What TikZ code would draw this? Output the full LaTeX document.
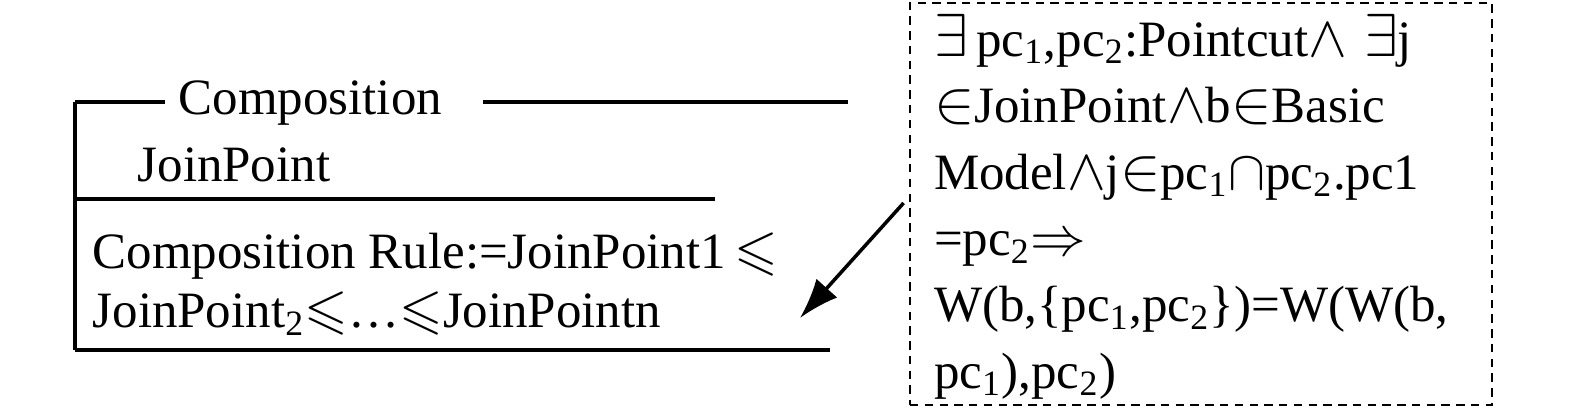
\documentclass[tikz,border=0pt]{standalone}
\usepackage{amsmath}
\usepackage{amssymb}
\usepackage{graphicx}
\usepackage{fontspec}
\setmainfont{Liberation Serif}
\usetikzlibrary{arrows.meta,positioning,calc}
\newcommand{\bsym}[2][1.2]{\smash{\scalebox{#1}{$#2$}}}
\tikzset{
  stxt/.style={inner sep=0pt, font=\fontsize{14.5}{17}\selectfont, align=left},
  sline/.style={line width=0.9pt, black},
  cbox/.style={rectangle, draw, dashed, dash pattern=on 2.4pt off 1.8pt, line width=0.8pt,
               align=left, font=\fontsize{14.5}{18.9}\selectfont, text width=5.34cm,
               minimum width=5.82cm, minimum height=4.02cm, inner xsep=0.24cm, inner ysep=0pt},
  sarr/.style={-{Latex[length=4mm,width=2.8mm]}, line width=1pt, black},
}
\begin{document}
\begin{tikzpicture}
            \useasboundingbox (0,0) rectangle (15.75,4.13);
            \coordinate (tl) at (0.75,3.11);
            \coordinate (ml) at (0.75,2.14);
            \coordinate (bl) at (0.75,0.63);
            \node[stxt,anchor=base west](title) at (1.78,2.98){Composition};
            \node[stxt,anchor=base west](jp) at (1.37,2.31){JoinPoint};
            \node[stxt,anchor=base west](rule) at (0.92,0.85){Composition Rule:=JoinPoint1\,\bsym[1.1]{\leqslant}\\JoinPoint\textsubscript{2}\bsym[1.1]{\leqslant}\ldots\bsym[1.1]{\leqslant}JoinPointn};
            \node[cbox](cond) at (12.01,2.09){\rule{0pt}{13.5pt}\bsym{\exists}\,pc\textsubscript{1},pc\textsubscript{2}:Pointcut\bsym[1.15]{\wedge}\ \bsym{\exists}j\\\bsym{\in}JoinPoint\bsym[1.15]{\wedge}b\bsym{\in}Basic\\Model\bsym[1.15]{\wedge}j\bsym{\in}pc\textsubscript{1}\bsym[1.1]{\cap}pc\textsubscript{2}.pc1\\=pc\textsubscript{2}\bsym[1.1]{\Rightarrow}\\W(b,\{pc\textsubscript{1},pc\textsubscript{2}\})=W(W(b,\\pc\textsubscript{1}),pc\textsubscript{2})};
            \coordinate (tip) at (8.00,0.95);
            \draw[sline](tl)--(bl);
            \draw[sline](tl)--(tl-|1.65,0);
            \draw[sline](4.83,3.11)--(8.48,3.11);
            \draw[sline](ml)--(ml-|7.15,0);
            \draw[sline](bl)--(bl-|8.30,0);
            \draw[sarr]($(cond.west)+(-0.05,0.01)$)--(tip);
        \end{tikzpicture}
\end{document}
